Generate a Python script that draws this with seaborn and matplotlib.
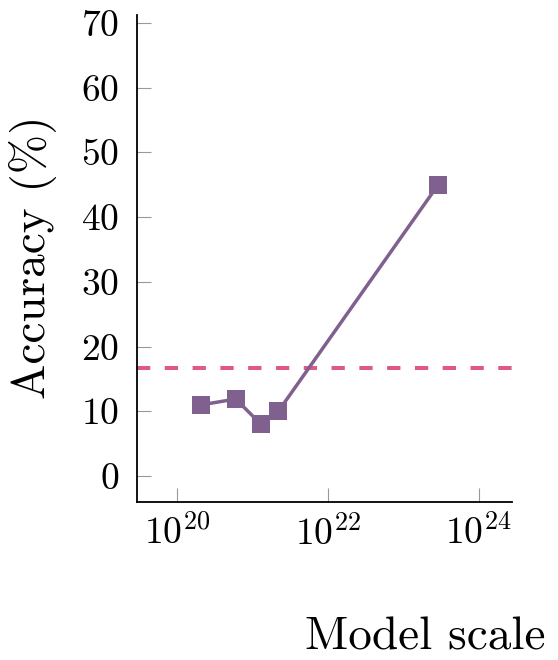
import numpy as np
import pandas as pd
import matplotlib
matplotlib.use("Agg")
import matplotlib.pyplot as plt
import seaborn as sns

# data
model_scale = [2.1e20, 6.0e20, 1.3e21, 2.2e21, 2.9e23]
accuracy = [11.0, 11.9, 8.0, 10.0, 45.0]
random_baseline = 16.7

df = pd.DataFrame({"scale": model_scale, "acc": accuracy})

sns.set_style("white")
plt.rcParams["font.family"] = ["cmr10", "DejaVu Serif"]
plt.rcParams["mathtext.fontset"] = "cm"
plt.rcParams["axes.formatter.use_mathtext"] = True

fig = plt.figure(figsize=(5.58, 6.60), dpi=100)
ax = fig.add_axes([137 / 558, 1 - 502 / 660, 375 / 558, 487 / 660])

ax.axhline(random_baseline, color="#e0588a", lw=2.9, dashes=(3.3, 3.6), zorder=1)
sns.lineplot(data=df, x="scale", y="acc", ax=ax, color="#80608f", lw=2.5,
             marker="s", markersize=13, markeredgewidth=0, zorder=3)

ax.set_xscale("log")
ax.set_xlim(10 ** 19.47, 10 ** 24.44)
ax.set_ylim(-4, 71.2)
ax.set_xticks([1e20, 1e22, 1e24])
ax.set_xticklabels([r"$10^{20}$", r"$10^{22}$", r"$10^{24}$"])
ax.minorticks_off()
ax.set_yticks(range(0, 71, 10))

ax.tick_params(bottom=True, left=True, direction="in", length=10, width=0.8,
               color="#999999", labelcolor="black", labelsize=27)
ax.tick_params(axis="y", pad=13)
ax.tick_params(axis="x", pad=9)
for s in ["top", "right"]:
    ax.spines[s].set_visible(False)
for s in ["left", "bottom"]:
    ax.spines[s].set_color("black")
    ax.spines[s].set_linewidth(1.3)

ax.set_xlabel("Model scale", fontsize=34, color="black")
ax.xaxis.set_label_coords(0.768, -0.236)
ax.set_ylabel("Accuracy (%)", fontsize=34, color="black")
ax.yaxis.set_label_coords(-0.213, 0.503)

fig.savefig("out.png", dpi=100)
